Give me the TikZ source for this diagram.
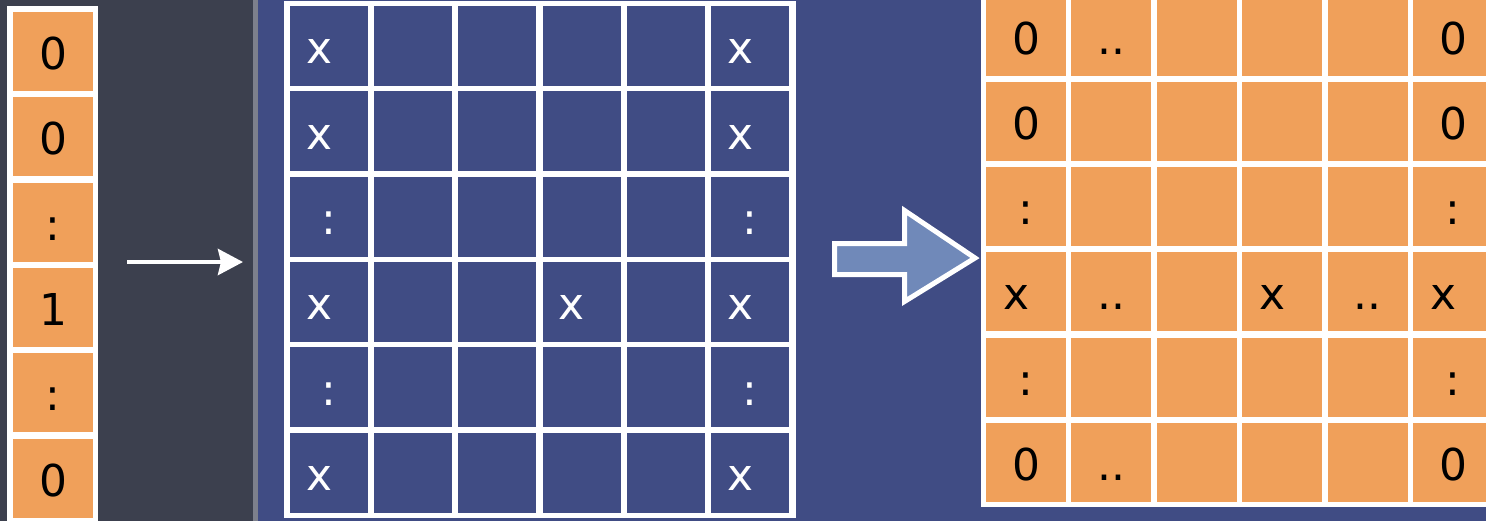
\documentclass[tikz,border=0pt]{standalone}
\usepackage{fontspec}
\setmainfont{DejaVu Sans}
\usetikzlibrary{arrows.meta}

\definecolor{slate}{RGB}{60,64,78}
\definecolor{divider}{RGB}{125,128,140}
\definecolor{navy}{RGB}{64,76,132}
\definecolor{cellorange}{RGB}{240,160,90}
\definecolor{arrowfill}{RGB}{112,137,185}

\begin{document}
\begin{tikzpicture}[
  x=0.02cm, y=-0.02cm,
  frame/.style={fill=white},
  vcell/.style={fill=cellorange, inner sep=0pt, minimum width=1.6cm, minimum height=1.58cm,
                font=\fontsize{25}{30}\selectfont, text height=0.72cm, text depth=0pt},
  mcell/.style={vcell, fill=navy, minimum width=1.56cm, minimum height=1.6cm},
  rcell/.style={vcell},
  sym/.style={inner sep=0pt, font=\fontsize{25}{30}\selectfont, text height=0.72cm, text depth=0pt},
  wsym/.style={sym, text=white},
  bsym/.style={sym, text=black},
  xoff/.style={xshift=-0.2cm},
  nooff/.style={},
  thin/.style={-{Stealth[length=0.5cm, width=0.52cm, inset=0.06cm]}, white, line width=0.09cm},
  bigarrow/.style={fill=arrowfill, draw=white, line width=0.1cm, line join=miter}
]
\useasboundingbox (0,0) rectangle (1486,521);

% backdrop: dark slate on the left, blue on the right
\fill[slate] (0,0) rectangle (253,521);
\fill[divider] (253,0) rectangle (258,521);
\fill[navy] (258,0) rectangle (1486,521);

% one-hot vector
\fill[frame] (7,6) rectangle (98,530);
\foreach \r/\t in {1/0, 2/0, 3/:, 4/1, 5/:, 6/0}
  \node[vcell] (v-\r) at (53,{51.5+(\r-1)*85.3}) {\t};

% input matrix, white grid on blue
\fill[frame] (284,1) rectangle (796,518);
\foreach \r in {1,...,6}
  \foreach \c in {1,...,6}
    \node[mcell] (m-\r-\c) at ({329+(\c-1)*84.2},{46+(\r-1)*85.3}) {};
\foreach \r/\c/\t/\s in {1/1/x/xoff, 2/1/x/xoff, 3/1/:/nooff, 4/1/x/xoff, 5/1/:/nooff, 6/1/x/xoff,
                         1/6/x/xoff, 2/6/x/xoff, 3/6/:/nooff, 4/6/x/xoff, 5/6/:/nooff, 6/6/x/xoff,
                         4/4/x/xoff}
  \node[wsym, \s] (ms-\r-\c) at (m-\r-\c) {\t};

% result matrix, orange cells
\fill[frame] (981,-10) rectangle (1500,507);
\foreach \r in {1,...,6}
  \foreach \c in {1,...,6}
    \node[rcell] (r-\r-\c) at ({1026+(\c-1)*85.4},{36.3+(\r-1)*85.2}) {};
\foreach \r/\c/\t/\s in {1/1/0/nooff, 1/2/../nooff, 1/6/0/nooff,
                         2/1/0/nooff, 2/6/0/nooff,
                         3/1/:/nooff, 3/6/:/nooff,
                         4/1/x/xoff, 4/2/../nooff, 4/4/x/xoff, 4/5/../nooff, 4/6/x/xoff,
                         5/1/:/nooff, 5/6/:/nooff,
                         6/1/0/nooff, 6/2/../nooff, 6/6/0/nooff}
  \node[bsym, \s] (rs-\r-\c) at (r-\r-\c) {\t};

% arrows between the stages
\coordinate (a0) at (127,262);
\coordinate (a1) at (243,262);
\draw[thin] (a0) -- (a1);

\draw[bigarrow] (834.5,243.5) -- (904.5,243.5) -- (904.5,210.5) -- (975,258)
  -- (904.5,301.5) -- (904.5,274.5) -- (834.5,274.5) -- cycle;

\end{tikzpicture}
\end{document}
